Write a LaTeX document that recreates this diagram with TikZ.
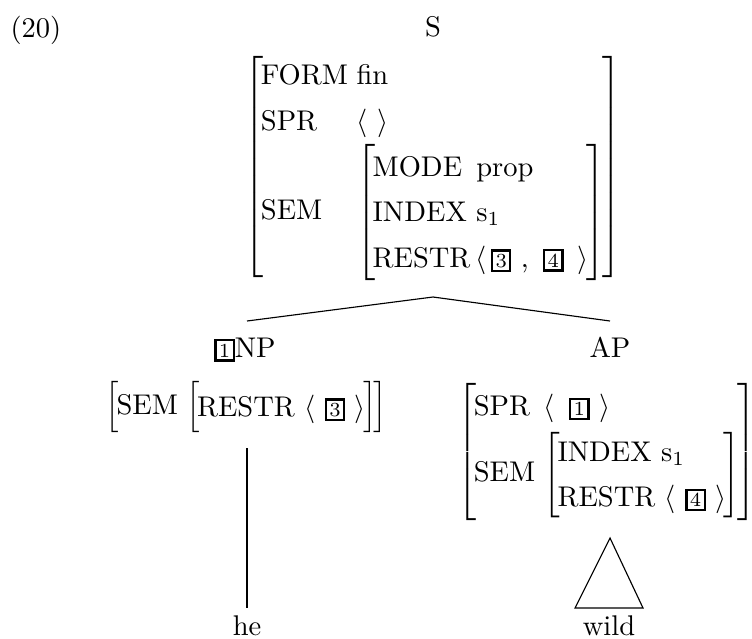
\documentclass[tikz,border=0pt]{standalone}
\usetikzlibrary{positioning}

\renewcommand{\arraystretch}{1.33}
\setlength{\fboxsep}{0.8pt}
\setlength{\fboxrule}{0.8pt}
\newcommand{\tagnum}[1]{\fbox{\scriptsize #1}}
\newcommand{\avmtwo}[1]{$\left[\hspace{-1pt}\begin{tabular}{@{}l@{\hspace{3pt}}l@{}}#1\end{tabular}\hspace{-1pt}\right]$}
\newcommand{\avmone}[1]{$\left[\hspace{-1pt}\begin{tabular}{@{}l@{}}#1\end{tabular}\hspace{-1pt}\right]$}

\begin{document}
\begin{tikzpicture}[x=0.351pt, y=-0.351pt]
\tikzset{
  lab/.style={inner sep=0pt, anchor=base},
  avm/.style={inner sep=0pt}
}
\useasboundingbox (0,0) rectangle (752,638);

% example number and root
\node[lab, anchor=base west] (exnum) at (10,37) {(20)};
\node[lab] (Scat) at (433,36) {S};
\node[avm] (Savm) at (433,167) {\avmtwo{FORM & fin\\
  SPR & $\langle\ \rangle$\\
  SEM & \avmone{MODE\enspace prop\\ INDEX s$_1$\\
    RESTR$\,\langle\,$\tagnum{3}\ ,\enspace\tagnum{4}\enspace$\rangle$}}};

% daughters
\node[lab] (NPcat) at (245,357) {\tagnum{1}NP};
\node[avm] (NPavm) at (246.5,407) {\avmtwo{SEM & \avmone{RESTR $\langle$ \tagnum{3} $\rangle$}}};
\node[lab] (APcat) at (610,357) {AP};
\node[avm] (APavm) at (607,452) {\avmtwo{SPR & $\langle$\enspace\tagnum{1} $\rangle$\\
  SEM & \avmone{INDEX s$_1$\\ RESTR $\langle$ \tagnum{4} $\rangle$}}};

% words
\node[lab] (he) at (247,635) {he};
\node[lab] (wild) at (609,635) {wild};

% branches
\coordinate (Sfoot) at (433,297);
\coordinate (NPhead) at (247,321);
\coordinate (APhead) at (610,321);
\draw (Sfoot) -- (NPhead);
\draw (Sfoot) -- (APhead);

\coordinate (NPfoot) at (247,448);
\coordinate (heTop) at (247,608);
\draw (NPfoot) -- (heTop);

\coordinate (APfoot) at (610,538);
\coordinate (wildL) at (575,608);
\coordinate (wildR) at (643,608);
\draw (APfoot) -- (wildL) -- (wildR) -- cycle;
\end{tikzpicture}
\end{document}
